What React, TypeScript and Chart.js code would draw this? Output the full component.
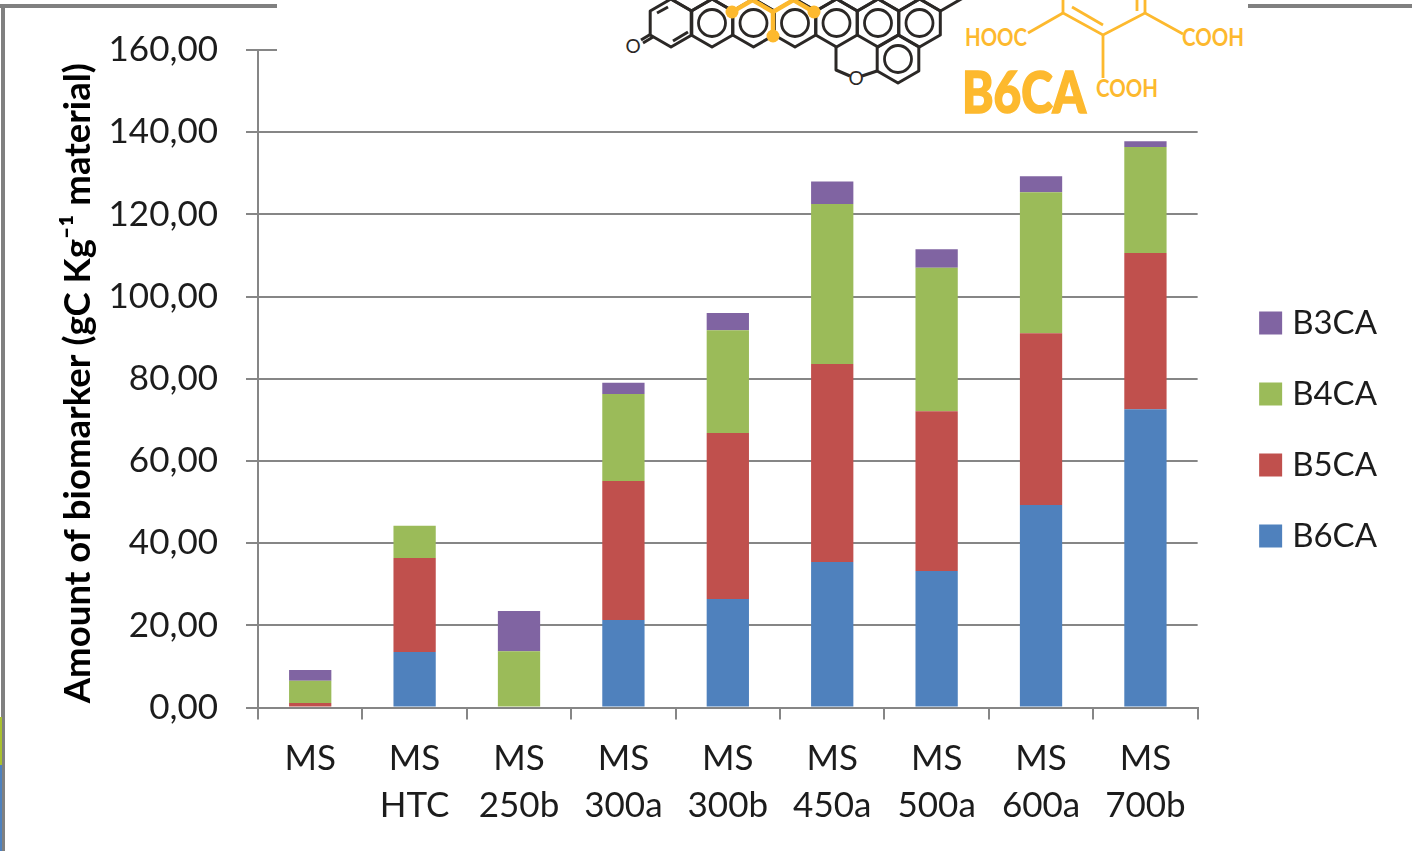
import { useEffect, useRef } from "react";
import { Chart, registerables } from "chart.js";

Chart.register(...registerables);

const samples: (string | string[])[] = [
  "MS",
  ["MS", "HTC"],
  ["MS", "250b"],
  ["MS", "300a"],
  ["MS", "300b"],
  ["MS", "450a"],
  ["MS", "500a"],
  ["MS", "600a"],
  ["MS", "700b"],
];
const b6ca = [0, 13.5, 0, 21.3, 26.4, 35.4, 33.2, 49.3, 72.6];
const b5ca = [1.1, 22.9, 0, 33.8, 40.4, 48.2, 38.9, 41.8, 38.0];
const b4ca = [5.4, 7.8, 13.7, 21.2, 25.0, 38.9, 34.9, 34.3, 25.8];
const b3ca = [2.6, 0, 9.8, 2.7, 4.2, 5.5, 4.5, 3.9, 1.4];

const yMax = 160;
const yStep = 20;
const axisTitle = "Amount of biomarker (gC Kg\u207B\u00B9 material)\u00A0";

const INK = "#1c1c1c";
const RULE = "#868686";
const AMBER = "#fdb92e";
const CHAR = "#2b2826";

const moveLegend = {
  id: "moveLegend",
  afterLayout(chart: any) {
    const l = chart.legend;
    const h = l.bottom - l.top;
    l.top = 268.5;
    l.bottom = 268.5 + h;
    l.left += 30;
    l.right += 30;
  },
};

// Pointy-top hexagon outline around a ring centre.
function hex(cx: number, cy: number, side = 24, halfW = 20.8) {
  const p = [
    [cx, cy - side],
    [cx + halfW, cy - side / 2],
    [cx + halfW, cy + side / 2],
    [cx, cy + side],
    [cx - halfW, cy + side / 2],
    [cx - halfW, cy - side / 2],
  ];
  return p.map((q) => q.join(",")).join(" ");
}

function Graphene() {
  const rings = [712, 753.5, 795, 836.5, 878, 919.5];
  const upper = [691.5, 733, 774.5, 816, 857.5, 899, 940.5];
  return (
    <svg
      width={1412}
      height={851}
      style={{ position: "absolute", left: 0, top: 0, pointerEvents: "none" }}
    >
      {/* frame around the panel */}
      <rect x={0} y={4} width={277} height={4} fill="#808080" />
      <rect x={1248} y={4} width={164} height={4} fill="#808080" />
      <rect x={1} y={4} width={4} height={847} fill="#808080" />
      <rect x={0} y={717} width={2} height={48} fill="#a9c02f" />
      <rect x={0} y={765} width={2} height={86} fill="#4f81bd" />

      {/* inset with the carbon structure */}
      <rect x={277} y={0} width={971} height={129} fill="#ffffff" />
      <g fill="none" stroke={CHAR} strokeWidth={3} strokeLinejoin="round">
        <polygon points={hex(671, 23)} />
        {rings.map((x) => (
          <g key={x}>
            <polygon points={hex(x, 23)} />
            <circle cx={x} cy={23} r={13.5} strokeWidth={2.8} />
          </g>
        ))}
        {upper.map((x) => (
          <polygon key={x} points={hex(x, -13)} />
        ))}
        <polygon points={hex(898, 59)} />
        <circle cx={898} cy={59} r={13.5} strokeWidth={2.8} />
        <polyline points="836,47 836,70 850,76" />
        <line x1={862} y1={76} x2={877} y2={71} />
        <line x1={657} y1={13} x2={668} y2={7} />
        <line x1={673} y1={41} x2={688} y2={32} />
        <line x1={651} y1={34} x2={641} y2={40} />
        <line x1={653} y1={37} x2={643} y2={43} />
      </g>
      <text x={633} y={53} fontFamily="Lato" fontSize={19} fill={CHAR} textAnchor="middle">O</text>
      <text x={856} y={85} fontFamily="Lato" fontSize={19} fill={CHAR} textAnchor="middle">O</text>

      <g fill="none" stroke={AMBER} strokeWidth={4.5}>
        <polyline points="732,12 752.5,0" />
        <polyline points="752.5,0 773,12 793.5,0" />
        <polyline points="793.5,0 814,12" />
        <line x1={773} y1={12} x2={773} y2={36} />
      </g>
      <g fill={AMBER}>
        <circle cx={732} cy={12} r={6.5} />
        <circle cx={773} cy={36} r={6.5} />
        <circle cx={814} cy={12} r={6.5} />
      </g>

      <g fill="none" stroke={AMBER} strokeWidth={2.8}>
        <polyline points="1063,0 1063,13 1103,35 1145,13 1183,34" />
        <line x1={1063} y1={13} x2={1028} y2={33} />
        <line x1={1072} y1={7} x2={1103} y2={25} />
        <line x1={1103} y1={35} x2={1103} y2={78} />
        <line x1={1137} y1={0} x2={1137} y2={11} />
        <line x1={1145} y1={0} x2={1145} y2={13} />
      </g>
      <g fill={AMBER} fontFamily="Lato" fontSize={24} fontWeight={700}>
        <text x={965} y={45.5} textLength={62} lengthAdjust="spacingAndGlyphs">HOOC</text>
        <text x={1182} y={45.5} textLength={62} lengthAdjust="spacingAndGlyphs">COOH</text>
        <text x={1096} y={96.5} textLength={62} lengthAdjust="spacingAndGlyphs">COOH</text>
        <text
          x={962}
          y={113}
          fontSize={58}
          fontWeight={900}
          stroke={AMBER}
          strokeWidth={1.6}
          textLength={124}
          lengthAdjust="spacingAndGlyphs"
        >
          B6CA
        </text>
      </g>
    </svg>
  );
}

export default function App() {
  const ref = useRef<HTMLCanvasElement>(null);

  useEffect(() => {
    const chart = new Chart(ref.current!, {
      type: "bar",
      data: {
        labels: samples,
        datasets: [
          { label: "B6CA", data: b6ca, backgroundColor: "#4f81bd" },
          { label: "B5CA", data: b5ca, backgroundColor: "#c0504d" },
          { label: "B4CA", data: b4ca, backgroundColor: "#9bbb59" },
          { label: "B3CA", data: b3ca, backgroundColor: "#8064a2" },
        ],
      },
      options: {
        animation: false,
        responsive: false,
        devicePixelRatio: 1,
        layout: { padding: { left: 0, top: 50, right: 55, bottom: 0 } },
        datasets: { bar: { categoryPercentage: 1, barPercentage: 0.405 } },
        scales: {
          x: {
            stacked: true,
            afterFit: (s: any) => {
              s.height = 143.5;
            },
            grid: {
              drawOnChartArea: false,
              color: RULE,
              lineWidth: 2,
              tickLength: 12,
              offset: true,
            },
            border: { color: RULE, width: 2 },
            ticks: {
              color: INK,
              maxRotation: 0,
              autoSkip: false,
              padding: 16,
              font: { family: "Lato", size: 35, lineHeight: 1.34 },
            },
          },
          y: {
            stacked: true,
            min: 0,
            max: yMax,
            afterFit: (s: any) => {
              s.width = 258;
            },
            grid: { color: RULE, lineWidth: 2, tickLength: 12 },
            border: { color: RULE, width: 2 },
            ticks: {
              stepSize: yStep,
              color: INK,
              padding: 28,
              font: { family: "Lato", size: 35 },
              callback: (v: any) => Number(v).toFixed(2).replace(".", ","),
            },
            title: {
              display: true,
              text: axisTitle,
              color: "#000000",
              padding: { top: 56, bottom: 0 },
              font: { family: "Lato", size: 36.6, weight: "bold" },
            },
          },
        },
        plugins: {
          tooltip: { enabled: false },
          legend: {
            position: "right",
            align: "start",
            reverse: true,
            labels: {
              color: INK,
              usePointStyle: true,
              pointStyle: "rect",
              boxWidth: 10,
              boxHeight: 23,
              padding: 38,
              font: { family: "Lato", size: 33 },
            },
          },
        },
      },
      plugins: [moveLegend],
    } as any);
    return () => chart.destroy();
  }, []);

  return (
    <div style={{ position: "absolute", left: 0, top: 0, width: 1412, height: 851, background: "#fff", overflow: "hidden" }}>
      <canvas ref={ref} width={1412} height={851} style={{ display: "block" }} />
      <Graphene />
    </div>
  );
}
